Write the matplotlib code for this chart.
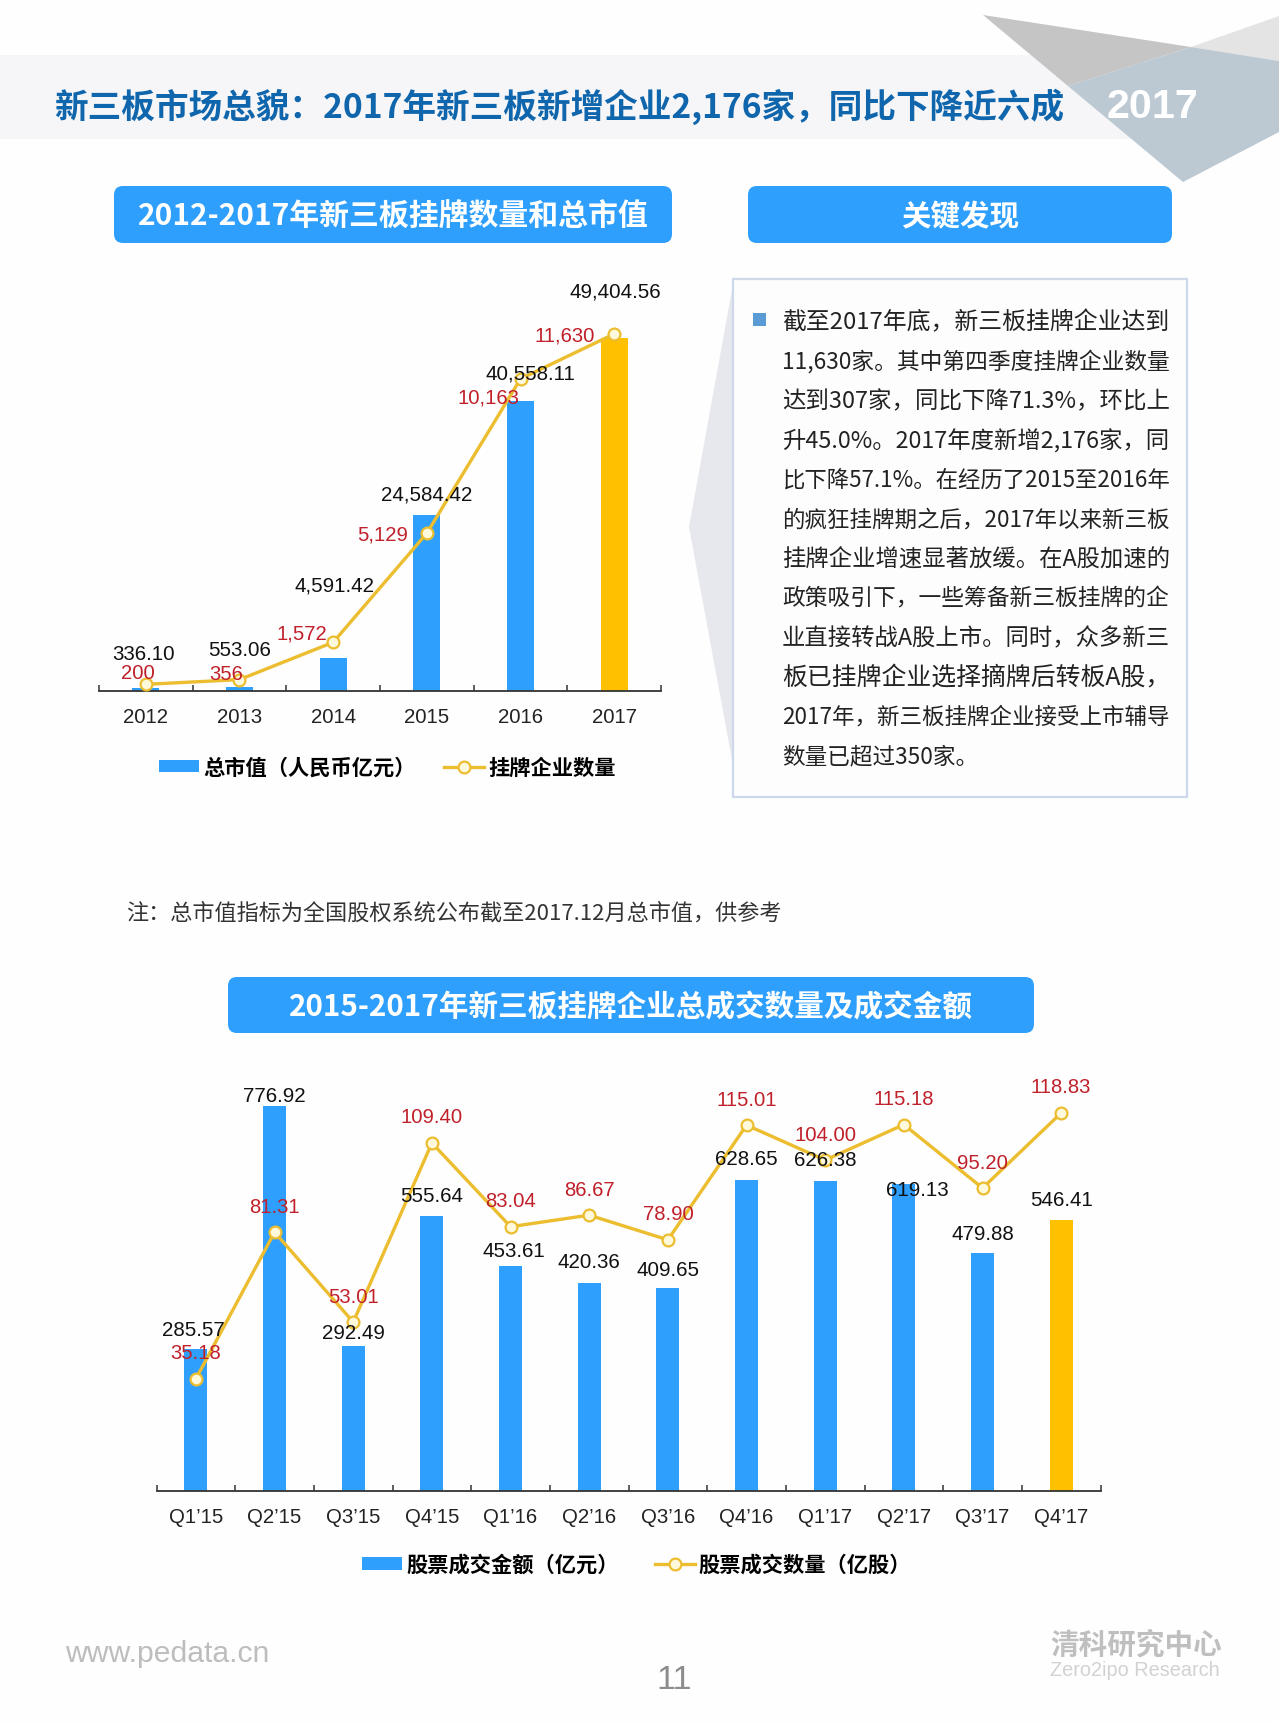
"""Two-panel report page: new third board listings and trading, 2012-2017."""

import matplotlib
matplotlib.use("Agg")

import matplotlib.pyplot as plt
from matplotlib.font_manager import FontProperties
from matplotlib.lines import Line2D
from matplotlib.patches import FancyBboxPatch, Patch, Polygon, Rectangle

W, H = 1279, 1724
CJK = "Noto Sans CJK SC"
LATIN = "Liberation Sans"
plt.rcParams["font.family"] = [LATIN, CJK, "DejaVu Sans"]

# ─── data ───────────────────────────────────────────────
years = ["2012", "2013", "2014", "2015", "2016", "2017"]
market_cap = [336.10, 553.06, 4591.42, 24584.42, 40558.11, 49404.56]
listed_count = [200, 356, 1572, 5129, 10163, 11630]
market_cap_labels = ["336.10", "553.06", "4,591.42", "24,584.42", "40,558.11", "49,404.56"]
listed_count_labels = ["200", "356", "1,572", "5,129", "10,163", "11,630"]

quarters = ["Q1’15", "Q2’15", "Q3’15", "Q4’15", "Q1’16", "Q2’16",
            "Q3’16", "Q4’16", "Q1’17", "Q2’17", "Q3’17", "Q4’17"]
trade_amount = [285.57, 776.92, 292.49, 555.64, 453.61, 420.36,
                409.65, 628.65, 626.38, 619.13, 479.88, 546.41]
trade_volume = [35.18, 81.31, 53.01, 109.40, 83.04, 86.67,
                78.90, 115.01, 104.00, 115.18, 95.20, 118.83]

findings = [
    "截至2017年底，新三板挂牌企业达到",
    "11,630家。其中第四季度挂牌企业数量",
    "达到307家，同比下降71.3%，环比上",
    "升45.0%。2017年度新增2,176家，同",
    "比下降57.1%。在经历了2015至2016年",
    "的疯狂挂牌期之后，2017年以来新三板",
    "挂牌企业增速显著放缓。在A股加速的",
    "政策吸引下，一些筹备新三板挂牌的企",
    "业直接转战A股上市。同时，众多新三",
    "板已挂牌企业选择摘牌后转板A股，",
    "2017年，新三板挂牌企业接受上市辅导",
    "数量已超过350家。",
]

# label offsets from their mark, in pixels (x, up)
cap_offsets = [(-2, 35), (0, 37), (1, 73), (0, 21), (10, 28), (1, 47)]
count_offsets = [(-8, 12), (-13, 6), (-31, 9), (-44, -1), (-32, -18), (-49, -1)]
amount_offsets = [(-3, 20), (0, 11), (0, 13), (0, 20), (3, 16), (0, 21),
                  (0, 18), (0, 21), (0, 21), (13, -5), (0, 20), (0, 21)]
volume_offsets = [(0, 26)] * 12

# ─── palette ────────────────────────────────────────────
CLR_BLUE = "#2E9FFD"
CLR_GOLD = "#FFC000"
CLR_LINE = "#EBBD2F"
CLR_MARKER = "#FFF9DC"
CLR_RED = "#C0202A"
CLR_TITLE = "#0F66AC"
CLR_AXIS = "#333333"

fig = plt.figure(figsize=(W / 100, H / 100), dpi=100, facecolor="#FEFEFE")

# page furniture drawn in pixel coordinates
page = fig.add_axes([0, 0, 1, 1], zorder=0)
page.set_xlim(0, W)
page.set_ylim(H, 0)
page.set_axis_off()


def fit_text(x, y, s, width, ha="left", size=16, **kw):
    """Place text and rescale its font so it spans `width` pixels."""
    # Noto CJK sits a little high against its centre line
    if kw.get("family") == CJK:
        y += 2.5
    t = page.text(x, y, s, ha=ha, va="center", fontsize=size, **kw)
    ext = t.get_window_extent(fig.canvas.get_renderer())
    t.set_fontsize(size * width / ext.width)
    return t


def header_box(x0, x1, y0, y1, label, text_w):
    r = 9
    page.add_patch(FancyBboxPatch((x0 + r, y0 + r), x1 - x0 - 2 * r, y1 - y0 - 2 * r,
                                  boxstyle=f"round,pad={r},rounding_size={r}",
                                  facecolor=CLR_BLUE, edgecolor="none"))
    fit_text((x0 + x1) / 2, (y0 + y1) / 2 - 1, label, text_w, ha="center",
             color="white", family=CJK, fontweight="bold")


def combo_chart(left, right, base, cats, bars, line, bar_top, line_top, bar_w,
                bar_labels, line_labels, bar_off, line_off, names, legend_at, gaps):
    height = 440
    ax = fig.add_axes([left / W, 1 - base / H, (right - left) / W, height / H], zorder=1)
    ax.patch.set_alpha(0)
    n = len(cats)
    x = list(range(n))
    colors = [CLR_BLUE] * (n - 1) + [CLR_GOLD]
    ax.bar(x, bars, width=bar_w / ((right - left) / n), color=colors, linewidth=0)
    ax.set_xlim(-0.5, n - 0.5)
    ax.set_ylim(0, bar_top)
    ax.set_yticks([])
    for side in ("top", "left", "right"):
        ax.spines[side].set_visible(False)
    ax.spines["bottom"].set_color(CLR_AXIS)
    ax.spines["bottom"].set_linewidth(1.3)
    ax.set_xticks(x)
    ax.set_xticklabels(cats, fontsize=14.7, color="#222222")
    ax.set_xticks([i - 0.5 for i in range(n + 1)], minor=True)
    ax.tick_params(axis="x", which="major", length=0, pad=12)
    ax.tick_params(axis="x", which="minor", length=4.5, width=1.1,
                   direction="in", color=CLR_AXIS)

    top = ax.twinx()
    top.patch.set_alpha(0)
    top.set_ylim(0, line_top)
    top.set_yticks([])
    for side in top.spines:
        top.spines[side].set_visible(False)
    style = dict(color=CLR_LINE, linewidth=2.4, marker="o", markersize=8.5,
                 markerfacecolor=CLR_MARKER, markeredgecolor=CLR_LINE,
                 markeredgewidth=1.6)
    top.plot(x, line, **style)

    for i in x:
        top.annotate(bar_labels[i], xy=(i, bars[i]), xycoords=ax.transData,
                     xytext=bar_off[i], textcoords="offset pixels",
                     ha="center", va="center", fontsize=14.8, color="#111111",
                     annotation_clip=False)
        top.annotate(line_labels[i], xy=(i, line[i]), xytext=line_off[i],
                     textcoords="offset pixels", ha="center", va="center",
                     fontsize=14.6, color=CLR_RED, annotation_clip=False)

    handles = [Patch(facecolor=CLR_BLUE, edgecolor="none"), Line2D([], [], **style)]
    top.legend(handles, names, loc="center", ncol=2, frameon=False,
               bbox_to_anchor=legend_at, bbox_transform=page.transData,
               prop=FontProperties(family=CJK, weight="bold", size=15.3),
               handlelength=1.88, handleheight=0.52, handletextpad=0.2,
               columnspacing=gaps, borderpad=0, borderaxespad=0, numpoints=1)


# ─── title band and corner triangles ────────────────────
page.add_patch(Rectangle((0, 56), 1150, 84, facecolor="#F6F6F8", edgecolor="none"))
page.add_patch(Polygon([(1191, 48), (1279, 17), (1279, 62)], facecolor="#E4E4E4", edgecolor="none"))
page.add_patch(Polygon([(983, 16), (1191, 48), (1068, 87)], facecolor="#C5C5C6", edgecolor="none"))
page.add_patch(Polygon([(1068, 87), (1191, 48), (1279, 62), (1279, 133), (1183, 183)],
                       facecolor="#BCC8D2", edgecolor="none"))
fit_text(54, 104, "新三板市场总貌：2017年新三板新增企业2,176家，同比下降近六成", 1012,
         color=CLR_TITLE, family=CJK, fontweight="bold")
fit_text(1153, 107, "2017", 92, ha="center", color="white", fontweight="bold",
         family=["Liberation Sans Narrow", LATIN])

header_box(114, 672, 187, 244, "2012-2017年新三板挂牌数量和总市值", 512)
header_box(748, 1172, 187, 244, "关键发现", 118)
header_box(228, 1034, 978, 1034, "2015-2017年新三板挂牌企业总成交数量及成交金额", 686)

# ─── findings panel ─────────────────────────────────────
page.add_patch(Polygon([(733, 285), (689, 528), (733, 766)], facecolor="#E7E8EE", edgecolor="none"))
page.add_patch(Rectangle((733, 280), 454, 518, facecolor="#FDFDFE",
                         edgecolor="#CFD8E8", linewidth=1.6))
page.add_patch(Rectangle((753, 314), 13, 13, facecolor="#5B9BD5", edgecolor="none"))
for i, row in enumerate(findings):
    y = 320 + i * 39.5
    if i == len(findings) - 1:
        page.text(782, y + 2.5, row, va="center", fontsize=16.3, color="#222222", family=CJK)
    else:
        fit_text(782, y, row, 388, color="#222222", family=CJK)

fit_text(126, 911, "注：总市值指标为全国股权系统公布截至2017.12月总市值，供参考", 656,
         color="#333333", family=CJK)

# ─── footer ─────────────────────────────────────────────
fit_text(65, 1654, "www.pedata.cn", 205, color="#BDBDBD")
fit_text(674, 1681, "11", 36, ha="center", color="#8C8C8C")
fit_text(1050, 1642, "清科研究中心", 172, color="#BFBFBF", family=CJK, fontweight="bold")
fit_text(1050, 1671, "Zero2ipo Research", 169, color="#D2D2D2")

# ─── charts ─────────────────────────────────────────────
combo_chart(99, 661, 691.5, years, market_cap, listed_count, 61650, 14351, 27,
            market_cap_labels, listed_count_labels, cap_offsets, count_offsets,
            ["总市值（人民币亿元）", "挂牌企业数量"], (387.5, 768), 1.3)
combo_chart(156.6, 1100.5, 1491.5, quarters, trade_amount, trade_volume, 890.1, 138.5, 23,
            [f"{v:.2f}" for v in trade_amount], [f"{v:.2f}" for v in trade_volume],
            amount_offsets, volume_offsets,
            ["股票成交金额（亿元）", "股票成交数量（亿股）"], (636.5, 1565.5), 1.7)

fig.savefig("out.png", dpi=100, facecolor=fig.get_facecolor())
